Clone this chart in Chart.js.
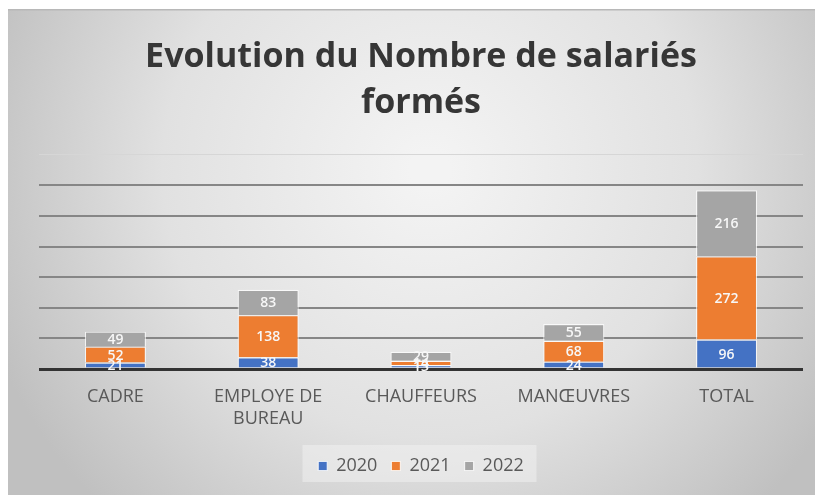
<!DOCTYPE html>
<html>
<head>
<meta charset="utf-8">
<script src="https://cdn.jsdelivr.net/npm/chart.js@4.4.0/dist/chart.umd.min.js"></script>
<style>
html,body{margin:0;padding:0;background:#fff;}
#wrap{width:815px;height:495px;position:relative;}
</style>
</head>
<body>
<div id="wrap"><canvas id="c" width="815" height="495"></canvas></div>
<script>
const categories = ['CADRE', ['EMPLOYE DE', 'BUREAU'], 'CHAUFFEURS', 'MANŒUVRES', 'TOTAL'];
const seriesNames = ['2020', '2021', '2022'];
const values2020 = [21, 38, 13, 24, 96];
const values2021 = [52, 138, 14, 68, 272];
const values2022 = [49, 83, 29, 55, 216];
const colors = ['#4472C4', '#ED7D31', '#A5A5A5'];
const titleLines = ['Evolution du Nombre de salariés', 'formés'];

const bgPlugin = {
  id: 'bg',
  beforeDraw(chart) {
    const ctx = chart.ctx;
    ctx.save();
    ctx.fillStyle = '#ffffff';
    ctx.fillRect(0, 0, chart.width, chart.height);
    const g = ctx.createRadialGradient(430, 170, 20, 430, 170, 470);
    g.addColorStop(0, '#f3f3f3');
    g.addColorStop(0.55, '#e1e1e1');
    g.addColorStop(1, '#c0c0c0');
    ctx.fillStyle = g;
    ctx.fillRect(8, 9, chart.width - 8, chart.height - 9);
    ctx.fillStyle = '#b8b8b8';
    ctx.fillRect(8, 9, chart.width - 8, 1.5);
    const lg = chart.legend;
    if (lg) {
      const cx = chart.width / 2 + 12;
      ctx.fillStyle = 'rgba(240,240,240,0.55)';
      ctx.fillRect(cx - 117, lg.top + 2, 234, 37);
    }
    ctx.restore();
  }
};

const labelPlugin = {
  id: 'segLabels',
  afterDatasetsDraw(chart) {
    const ctx = chart.ctx;
    ctx.save();
    ctx.font = '600 14px "Open Sans"';
    ctx.fillStyle = '#f7f7f7';
    ctx.textAlign = 'center';
    ctx.textBaseline = 'middle';
    chart.data.datasets.forEach((ds, di) => {
      const meta = chart.getDatasetMeta(di);
      meta.data.forEach((el, i) => {
        const y = (el.y + el.base) / 2;
        ctx.fillText(String(ds.data[i]), el.x, y + 1);
      });
    });
    ctx.restore();
  }
};

const datasets = [values2020, values2021, values2022].map((vals, i) => ({
  label: seriesNames[i],
  data: vals,
  backgroundColor: colors[i],
  borderColor: 'rgba(255,255,255,0.75)',
  borderWidth: 1.2,
  categoryPercentage: 0.8,
  barPercentage: 0.5
}));

new Chart(document.getElementById('c'), {
  type: 'bar',
  data: { labels: categories, datasets },
  plugins: [bgPlugin, labelPlugin],
  options: {
    responsive: false,
    animation: false,
    devicePixelRatio: 1,
    layout: { padding: { left: 39, right: 12, top: 34, bottom: 10 } },
    plugins: {
      title: {
        display: true,
        text: titleLines,
        color: '#363636',
        font: { family: '"Open Sans"', size: 34, weight: 'bold', lineHeight: 1.35 },
        padding: { top: 0, bottom: 29 }
      },
      legend: {
        position: 'bottom',
        labels: {
          boxWidth: 9, boxHeight: 9,
          color: '#595959',
          font: { family: '"Open Sans"', size: 18 },
          padding: 14
        }
      },
      tooltip: { enabled: false }
    },
    scales: {
      x: {
        stacked: true,
        grid: { display: false, drawTicks: false },
        border: { display: false },
        ticks: {
          color: '#595959',
          font: { family: '"Open Sans"', size: 18, lineHeight: 1.2 },
          padding: 17,
          maxRotation: 0,
          autoSkip: false
        },
        afterFit(scale) { scale.height = 74; }
      },
      y: {
        stacked: true,
        min: 0, max: 700,
        ticks: { display: false, stepSize: 100 },
        border: { display: false },
        grid: {
          drawTicks: false,
          color(ctx) {
            const v = ctx.tick && ctx.tick.value;
            if (v === 0) return '#333333';
            if (v === 700) return '#d6d6d6';
            return '#868686';
          },
          lineWidth(ctx) {
            const v = ctx.tick && ctx.tick.value;
            if (v === 0) return 3;
            if (v === 700) return 1;
            return 2;
          }
        },
        afterFit(scale) { scale.width = 0; }
      }
    }
  }
});
</script>
</body>
</html>
